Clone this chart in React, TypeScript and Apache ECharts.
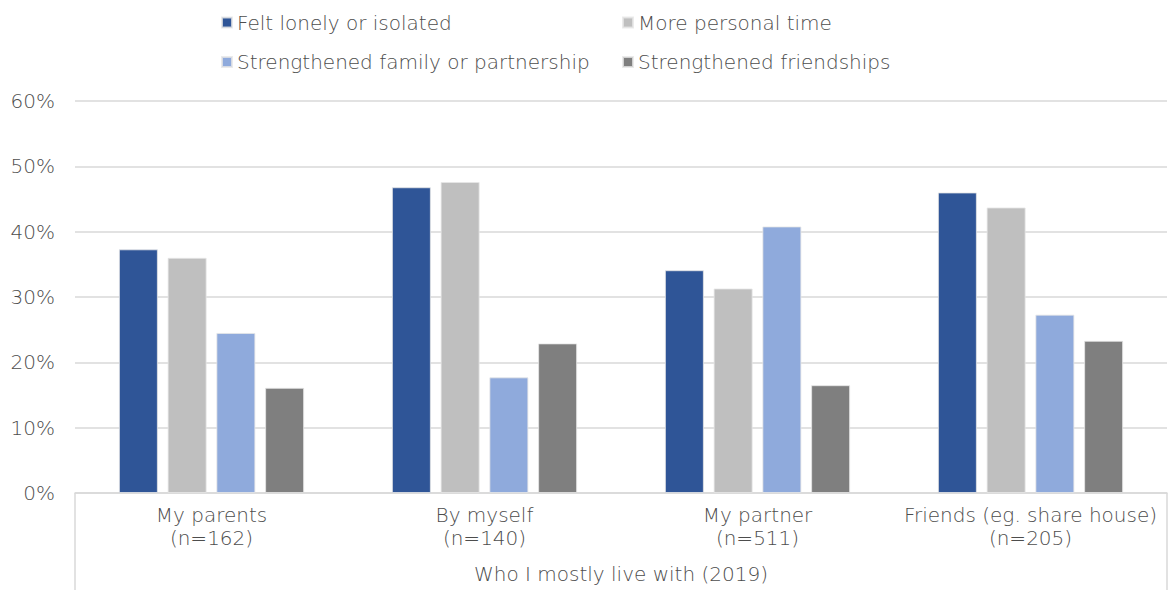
import React, { useEffect, useRef } from "react";
import * as echarts from "echarts";

const categories = [
  "My parents\n(n=162)",
  "By myself\n(n=140)",
  "My partner\n(n=511)",
  "Friends (eg. share house)\n(n=205)",
];
const seriesNames = [
  "Felt lonely or isolated",
  "More personal time",
  "Strengthened family or partnership",
  "Strengthened friendships",
];
const feltLonely = [37.3, 46.8, 34.1, 46.0];
const morePersonalTime = [36.0, 47.6, 31.3, 43.7];
const strengthenedFamily = [24.5, 17.7, 40.8, 27.3];
const strengthenedFriendships = [16.1, 22.9, 16.5, 23.3];
const colors = ["#2F5597", "#BFBFBF", "#8FAADC", "#7F7F7F"];
const yTicks = [0, 10, 20, 30, 40, 50, 60];
const axisTitle = "Who I mostly live with (2019)";

const FONT = "'DejaVu Sans', sans-serif";
const WEIGHT = 300;
const TXT = "#4d4d4d";

export default function App() {
  const ref = useRef<HTMLDivElement>(null);
  useEffect(() => {
    if (!ref.current) return;
    const chart = echarts.init(ref.current, null, { renderer: "svg" });
    const values = [feltLonely, morePersonalTime, strengthenedFamily, strengthenedFriendships];
    const legendPos = [
      { left: 221, top: 12.5 },
      { left: 622, top: 12.5 },
      { left: 221, top: 52 },
      { left: 622, top: 52 },
    ];
    const gridLeft = 75, gridRight = 7, gridTop = 101, gridBottom = 97;
    const W = 1174, H = 590;
    chart.setOption({
      animation: false,
      textStyle: { fontFamily: FONT, fontWeight: WEIGHT },
      legend: seriesNames.map((n, i) => ({
        data: [n],
        left: legendPos[i].left,
        top: legendPos[i].top,
        padding: 0,
        itemWidth: 10,
        itemHeight: 10,
        icon: "rect",
        textStyle: { color: TXT, fontSize: 20, lineHeight: 20, fontFamily: FONT, fontWeight: WEIGHT },
        selectedMode: false,
      })),
      grid: {
        left: gridLeft,
        right: gridRight,
        top: gridTop,
        bottom: gridBottom,
        containLabel: false,
        outerBoundsMode: "none",
      },
      xAxis: {
        type: "category",
        data: categories,
        axisTick: { show: false },
        axisLine: { show: true, lineStyle: { color: "#d9d9d9", width: 1.5 } },
        axisLabel: {
          interval: 0,
          color: TXT,
          fontSize: 20,
          lineHeight: 23.5,
          margin: 10,
          fontFamily: FONT,
          fontWeight: WEIGHT,
        },
        name: axisTitle,
        nameLocation: "middle",
        nameGap: 71,
        nameTextStyle: { color: TXT, fontSize: 20, lineHeight: 20, fontFamily: FONT, fontWeight: WEIGHT },
      },
      yAxis: {
        type: "value",
        min: yTicks[0],
        max: yTicks[yTicks.length - 1],
        interval: 10,
        axisLine: { show: false },
        axisTick: { show: false },
        splitLine: { lineStyle: { color: "#d9d9d9", width: 1.5 } },
        axisLabel: {
          formatter: "{value}%",
          color: TXT,
          fontSize: 20,
          margin: 20,
          fontFamily: FONT,
          fontWeight: WEIGHT,
        },
      },
      graphic: [
        { type: "line", shape: { x1: gridLeft, y1: H - gridBottom, x2: gridLeft, y2: H }, style: { stroke: "#d9d9d9", lineWidth: 1.5 } },
        { type: "line", shape: { x1: W - gridRight, y1: H - gridBottom, x2: W - gridRight, y2: H }, style: { stroke: "#d9d9d9", lineWidth: 1.5 } },
      ],
      series: seriesNames.map((n, i) => ({
        name: n,
        type: "bar",
        data: values[i],
        barWidth: 39,
        barGap: "25%",
        itemStyle: { color: colors[i], borderColor: "rgba(230,230,230,0.8)", borderWidth: 1 },
      })),
    });
    return () => chart.dispose();
  }, []);
  return (
    <div
      ref={ref}
      style={{ position: "fixed", left: 0, top: 0, width: 1174, height: 590, background: "#fff" }}
    />
  );
}
